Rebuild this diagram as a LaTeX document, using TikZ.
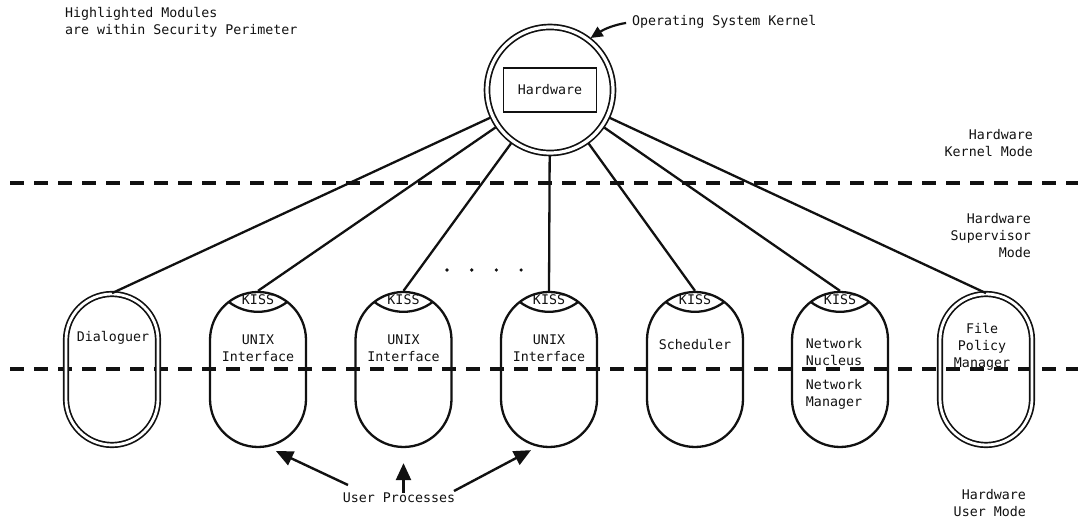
\documentclass[tikz,border=0pt]{standalone}
\usepackage{fontspec}
\setmainfont{DejaVu Sans Mono}
\usetikzlibrary{arrows.meta,positioning,calc}
\definecolor{ink}{HTML}{111111}

\tikzset{
  lbl/.style={font=\fontsize{13.3}{17}\selectfont, text=ink, inner sep=0pt, align=center},
  kernel/.style={circle, draw=ink, line width=1.7pt, double, double distance=3.2pt,
    minimum size=126pt, inner sep=0pt, outer sep=3pt},
  capsule/.style={draw=ink, line width=2.3pt, minimum width=96pt, minimum height=155pt,
    rounded corners=48pt, inner sep=0pt},
  securecap/.style={draw=ink, line width=1.7pt, double, double distance=2.8pt,
    minimum width=92pt, minimum height=151pt, rounded corners=46pt, inner sep=0pt},
  link/.style={draw=ink, line width=2.3pt},
  modeline/.style={draw=ink, line width=3.4pt, dash pattern=on 14pt off 10pt},
  pointer/.style={draw=ink, line width=2.4pt, -{Triangle[length=17pt,width=15pt]}},
}

\begin{document}
\begin{tikzpicture}[x=1pt,y=1pt]
  \useasboundingbox (0,0) rectangle (1078,519);

  % mode boundaries
  \draw[modeline] (10,336) -- (1078,336);
  \draw[modeline] (10,150) -- (1078,150);

  % kernel with the hardware inside
  \node[kernel] (kern) at (550,429) {};
  \node[lbl, draw=ink, line width=1.6pt, minimum width=93pt, minimum height=44pt] (hw) at (kern) {Hardware};
  \node[lbl, anchor=west] (os) at (632,497) {Operating System Kernel};
  \draw[ink, line width=2.2pt, -{Triangle[length=12pt,width=11pt]}, shorten <=6pt]
    (os.west) to[bend right=12] (kern.52);

  \node[lbl, align=left, anchor=north west] (note) at (65,512) {Highlighted Modules\\are within Security Perimeter};

  % processes
  \node[securecap] (dlg) at (112,149.5) {};
  \node[capsule] (unixa) at (258,149.5) {};
  \node[capsule] (unixb) at (403.5,149.5) {};
  \node[capsule] (unixc) at (549,149.5) {};
  \node[capsule] (sched) at (695,149.5) {};
  \node[capsule] (net) at (840,149.5) {};
  \node[securecap] (fpm) at (986,149.5) {};

  % KISS caps
  \foreach \c in {unixa,unixb,unixc,sched,net}{
    \draw[link] ([shift={(-29.3,-11)}]\c.north) arc[start angle=232.4, end angle=307.6, radius=48];
    \node[lbl] (\c-kiss) at ([yshift=-9pt]\c.north) {KISS};
  }

  \node[lbl] (dlg-t) at ([xshift=1pt,yshift=31.5pt]dlg) {Dialoguer};
  \node[lbl] (unixa-t) at ([yshift=21pt]unixa) {UNIX\\Interface};
  \node[lbl] (unixb-t) at ([yshift=21pt]unixb) {UNIX\\Interface};
  \node[lbl] (unixc-t) at ([yshift=21pt]unixc) {UNIX\\Interface};
  \node[lbl] (sched-t) at ([yshift=24.5pt]sched) {Scheduler};
  \node[lbl] (net-a) at ([xshift=-6pt,yshift=17.5pt]net) {Network\\Nucleus};
  \node[lbl] (net-b) at ([xshift=-6pt,yshift=-24.5pt]net) {Network\\Manager};
  \node[lbl] (fpm-t) at ([xshift=-4pt,yshift=22.5pt]fpm) {File\\Policy\\Manager};

  % kernel to each process
  \foreach \c in {dlg,unixa,unixb,unixc,sched,net,fpm}
    \draw[link] (kern) -- (\c.north);

  \foreach \i in {0,...,3}
    \fill[ink] (447+24.7*\i,249) circle (1.8pt);

  % mode names
  \node[lbl, align=right, anchor=east] (kmode) at (1033,376) {Hardware\\Kernel Mode};
  \node[lbl, align=right, anchor=east] (smode) at (1031,283) {Hardware\\Supervisor\\Mode};
  \node[lbl, align=right, anchor=east] (umode) at (1026,15.5) {Hardware\\User Mode};

  % user processes
  \node[lbl] (procs) at (399,21) {User Processes};
  \draw[pointer] ([xshift=-51pt,yshift=13pt]procs.center) -- ([xshift=18pt,yshift=-3pt]unixa.south);
  \draw[pointer] (procs.north -| unixb.south) -- ([yshift=-15pt]unixb.south);
  \draw[pointer] ([xshift=55pt,yshift=7pt]procs.center) -- ([xshift=-18pt,yshift=-2pt]unixc.south);
\end{tikzpicture}
\end{document}
